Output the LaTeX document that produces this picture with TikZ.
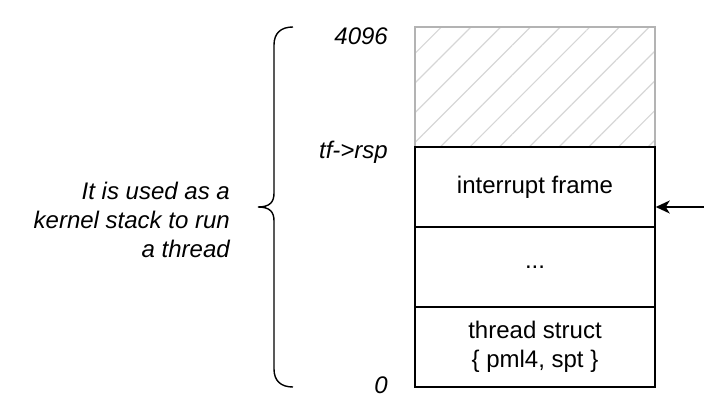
\documentclass[tikz,border=0pt]{standalone}
\usepackage{fontspec}
\setmainfont{Liberation Sans}
\usetikzlibrary{arrows.meta,patterns.meta,positioning}
\definecolor{ink}{HTML}{000000}
\definecolor{framegray}{HTML}{B3B3B3}
\definecolor{hatchgray}{HTML}{D6D6D6}
\definecolor{paper}{HTML}{FFFFFF}
\newcommand{\bigtext}{\fontsize{24}{28.8}\selectfont}
\tikzset{
  cell/.style={draw=ink,fill=paper,line width=1.5pt,minimum width=240pt,minimum height=80pt,inner sep=0pt,align=center,font=\bigtext},
  freecell/.style={cell,minimum height=120pt,draw=framegray,pattern={Lines[angle=45,distance=21pt,line width=1.2pt]},pattern color=hatchgray},
  addr/.style={anchor=east,inner sep=0pt,font=\bigtext\itshape},
  notetext/.style={anchor=east,inner sep=0pt,align=right,font=\bigtext\itshape},
  bracestroke/.style={draw=ink,line width=1.4pt},
  pusharr/.style={-{Stealth[length=14pt,width=13pt,inset=4pt]},line width=1.5pt}
}

\begin{document}
\begin{tikzpicture}[x=1pt,y=-1pt]
  \useasboundingbox (0,0) rectangle (704,409);

  % kernel page laid out as a stack
  \node[freecell] (free) at (535,87) {};
  \node[cell] (intr) at (535,187) {interrupt frame};
  \node[cell] (dots) at (535,267) {...};
  \node[cell] (thrd) at (535,347) {thread struct\\\{ pml4, spt \}};

  \node[addr] (top) at (388,36) {4096};
  \node[addr] (rsp) at (388,152) {tf->rsp};
  \node[addr] (bot) at (388,385) {0};

  \coordinate (push) at (704,207);
  \draw[pusharr] (push) -- (push -| intr.east);

  % brace over the whole page
  \draw[bracestroke] (293,27) .. controls (281,27) and (274,33) .. (274,45) -- (274,193)
    .. controls (274,202) and (270,207) .. (258,207)
    .. controls (270,207) and (274,212) .. (274,221) -- (274,369)
    .. controls (274,381) and (281,387) .. (293,387);

  \node[notetext] (note) at (230,220) {It is used as a\\kernel stack to run\\a thread};
\end{tikzpicture}
\end{document}
